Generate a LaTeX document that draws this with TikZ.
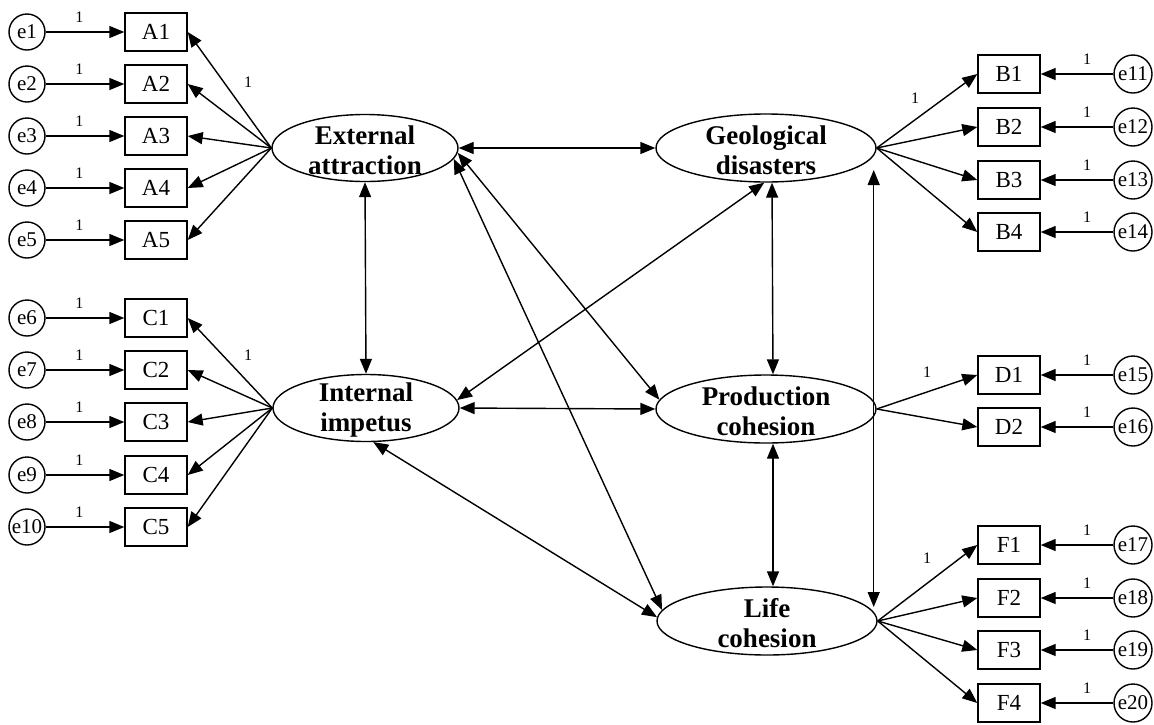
\documentclass[tikz,border=0pt]{standalone}
\usepackage{fontspec}
\setmainfont{Liberation Serif}
\usetikzlibrary{arrows.meta,shapes.geometric}
\begin{document}
\begin{tikzpicture}[x=1pt,y=-1pt,
  lw/.style={line width=1.4pt},
  box/.style={draw,lw,minimum width=62pt,minimum height=38pt,inner sep=0pt,font=\fontsize{23}{23}\selectfont},
  errL/.style={draw,circle,lw,minimum size=36pt,inner sep=0pt,font=\fontsize{21}{21}\selectfont},
  errR/.style={draw,circle,lw,minimum size=38pt,inner sep=0pt,font=\fontsize{21}{21}\selectfont},
  lat/.style={draw,ellipse,lw,inner sep=0pt},
  latA/.style={lat,minimum width=186pt,minimum height=67pt},
  latB/.style={lat,minimum width=220pt,minimum height=68pt},
  lab/.style={font=\fontsize{27}{30}\selectfont\bfseries,align=center,inner sep=0pt},
  one/.style={font=\fontsize{16}{16}\selectfont,inner sep=0pt},
  arr/.style={lw,-{Triangle[length=15pt,width=12pt]}},
  dbl/.style={lw,{Triangle[length=15pt,width=12pt]}-{Triangle[length=15pt,width=12pt]}},
]
\fill[white] (0,0) rectangle (1154,724);
\useasboundingbox (0,0) rectangle (1154,724);

% latent variables
\node[latA] (ext) at (365,148) {};
\node[lab] (extT) at (365,150) {External\\attraction};
\node[latA] (int) at (366,408) {};
\node[lab] (intT) at (366,410) {Internal\\impetus};
\node[latB] (geo) at (766,148) {};
\node[lab] (geoT) at (766,150) {Geological\\disasters};
\node[latB] (prod) at (766,409) {};
\node[lab] (prodT) at (766,411) {Production\\cohesion};
\node[latB] (life) at (767,621) {};
\node[lab] (lifeT) at (767,623) {Life\\cohesion};

% left indicators
\foreach \i/\y in {1/32,2/84,3/136,4/188,5/240}{
  \node[box] (A\i) at (156,\y) {A\i};
  \node[errL] (e\i) at (27,\y) {e\i};
  \draw[arr] (e\i) -- (A\i) node[one,pos=0.43,above=9pt]{1};
  \draw[arr] (ext.west) -- (A\i.east);
}
\foreach \i/\j/\y in {1/6/318,2/7/370,3/8/422,4/9/475,5/10/527}{
  \node[box] (C\i) at (156,\y) {C\i};
  \node[errL] (e\j) at (27,\y) {e\j};
  \draw[arr] (e\j) -- (C\i) node[one,pos=0.43,above=9pt]{1};
  \draw[arr] (int.west) -- (C\i.east);
}
% right indicators
\foreach \i/\j/\y in {1/11/74,2/12/127,3/13/180,4/14/232}{
  \node[box] (B\i) at (1009,\y) {B\i};
  \node[errR] (e\j) at (1133,\y) {e\j};
  \draw[arr] (e\j) -- (B\i) node[one,pos=0.36,above=9pt]{1};
  \draw[arr] (geo.east) -- (B\i.west);
}
\foreach \i/\j/\y in {1/15/375,2/16/427}{
  \node[box] (D\i) at (1009,\y) {D\i};
  \node[errR] (e\j) at (1133,\y) {e\j};
  \draw[arr] (e\j) -- (D\i) node[one,pos=0.36,above=9pt]{1};
  \draw[arr] (prod.east) -- (D\i.west);
}
\foreach \i/\j/\y in {1/17/545,2/18/598,3/19/650,4/20/703}{
  \node[box] (F\i) at (1009,\y) {F\i};
  \node[errR] (e\j) at (1133,\y) {e\j};
  \draw[arr] (e\j) -- (F\i) node[one,pos=0.36,above=9pt]{1};
  \draw[arr] (life.east) -- (F\i.west);
}

% fixed loading labels
\node[one] (lA) at (248,82) {1};
\node[one] (lC) at (248,355) {1};
\node[one] (lB) at (915,98) {1};
\node[one] (lD) at (927,372) {1};
\node[one] (lF) at (927,558) {1};

% covariances
\draw[dbl] (ext.east) -- (geo.west);
\draw[dbl] (ext.south) -- (int.north);
\draw[dbl] (ext.-3) -- (prod.175);
\draw[dbl] (ext.-7) -- (life.174);
\draw[dbl] (int.5) -- (geo.-93);
\draw[dbl] (int.east) -- (prod.west);
\draw[dbl] (int.-78) -- (life.178);
\draw[dbl] ([xshift=6pt]geo.south) -- ([xshift=7pt]prod.north);
\draw[dbl] ([xshift=7pt]prod.south) -- ([xshift=6pt]life.north);
\draw[dbl] ([xshift=-3pt,yshift=-22pt]geo.east) -- ([xshift=-4pt,yshift=14pt]life.east);
\end{tikzpicture}
\end{document}
